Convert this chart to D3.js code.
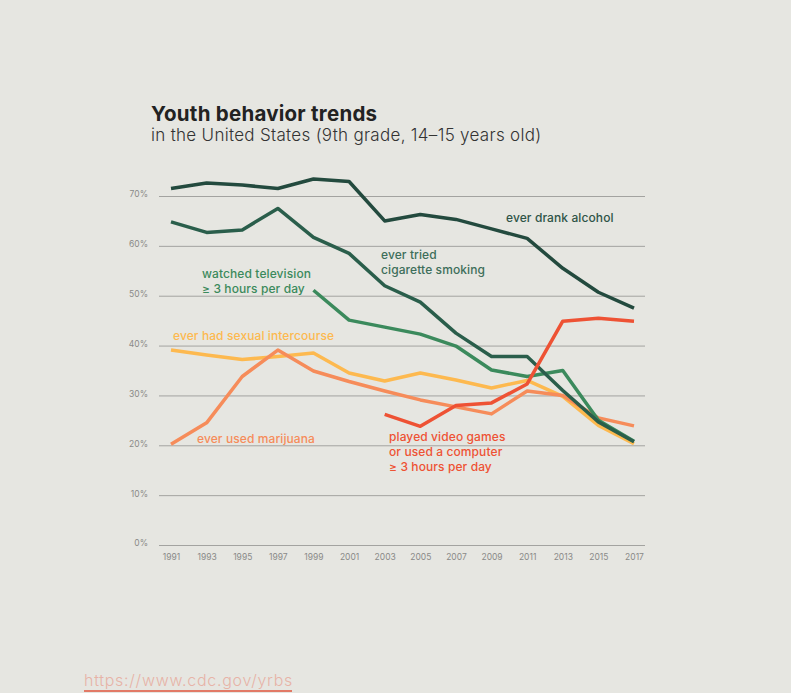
<!DOCTYPE html>
<html>
<head>
<meta charset="utf-8">
<script src="https://cdn.jsdelivr.net/npm/d3@7"></script>
<style>
  body { margin: 0; background: #e6e6e1; }
  svg { display: block; font-family: "Inter", "Lato", sans-serif; }
</style>
</head>
<body>
<svg width="791" height="693"></svg>
<script>
const years = [1991, 1993, 1995, 1997, 1999, 2001, 2003, 2005, 2007, 2009, 2011, 2013, 2015, 2017];
const yTicks = [0, 10, 20, 30, 40, 50, 60, 70];

const alcohol = [71.5, 72.6, 72.2, 71.5, 73.4, 72.9, 65.0, 66.3, 65.3, 63.4, 61.5, 55.5, 50.7, 47.5];
const cigarette = [64.8, 62.7, 63.2, 67.5, 61.7, 58.5, 52.0, 48.7, 42.5, 37.8, 37.8, 31.0, 24.7, 20.7];
const television = [null, null, null, null, 51.1, 45.1, 43.7, 42.3, 39.9, 35.1, 33.8, 35.0, 25.0, 20.8];
const sexual = [39.1, 38.1, 37.2, 37.8, 38.5, 34.5, 32.9, 34.5, 33.1, 31.5, 33.0, 29.8, 24.0, 20.3];
const marijuana = [20.2, 24.5, 33.8, 39.1, 34.9, 32.8, 30.9, 29.1, 27.7, 26.3, 30.9, 30.0, 25.5, 23.9];
const videoGames = [null, null, null, null, null, null, 26.2, 23.8, 28.0, 28.5, 32.3, 44.9, 45.5, 44.9];

const series = [
  { values: sexual, color: '#fdb94f', label: ['ever had sexual intercourse'], lx: 173, ly: 340 },
  { values: marijuana, color: '#f68c5a', label: ['ever used marijuana'], lx: 197, ly: 443 },
  { values: television, color: '#3b8a5c', label: ['watched television', '\u2265 3 hours per day'], lx: 202, ly: 278 },
  { values: cigarette, color: '#2a5e4b', label: ['ever tried', 'cigarette smoking'], lx: 381, ly: 259, labelColor: '#3d6e5a' },
  { values: alcohol, color: '#234a3e', label: ['ever drank alcohol'], lx: 506, ly: 222, labelColor: '#2f5447' },
  { values: videoGames, color: '#ee5234', label: ['played video games', 'or used a computer', '\u2265 3 hours per day'], lx: 389, ly: 441 }
];

const svg = d3.select('svg');

const xScale = d3.scalePoint()
  .domain(years)
  .range([171, 634]);

const yScale = d3.scaleLinear()
  .domain([0, 70])
  .range([545, 196]);

// title
svg.append('text')
  .attr('x', 151)
  .attr('y', 121)
  .attr('font-size', '20.5px')
  .attr('font-weight', 700)
  .attr('letter-spacing', '0.25px')
  .attr('fill', '#222')
  .text('Youth behavior trends');
svg.append('text')
  .attr('x', 151)
  .attr('y', 141)
  .attr('font-size', '17px')
  .attr('font-weight', 300)
  .attr('letter-spacing', '0.3px')
  .attr('fill', '#333')
  .text('in the United States (9th grade, 14\u201315 years old)');

// y axis with grid lines
const yAxis = d3.axisLeft(yScale)
  .tickValues(yTicks)
  .tickSize(-(645 - 159))
  .tickPadding(11)
  .tickFormat(d => d + '%');

const yAxisG = svg.append('g')
  .attr('transform', 'translate(159,0)')
  .call(yAxis);
yAxisG.select('.domain').remove();
yAxisG.selectAll('line')
  .attr('stroke', '#a3a3a0')
  .attr('stroke-width', 1);
yAxisG.selectAll('text')
  .attr('fill', '#8a8a88')
  .attr('font-size', '8.5px')
  .attr('font-family', '"Inter", sans-serif')
  .attr('dy', '0.1em');

// x axis
const xAxis = d3.axisBottom(xScale)
  .tickSize(0)
  .tickPadding(9);

const xAxisG = svg.append('g')
  .attr('transform', 'translate(0,545)')
  .call(xAxis);
xAxisG.select('.domain').remove();
xAxisG.selectAll('text')
  .attr('fill', '#8a8a88')
  .attr('font-size', '8.5px')
  .attr('font-family', '"Inter", sans-serif');

// lines
const line = d3.line()
  .defined(d => d[1] !== null)
  .x(d => xScale(d[0]))
  .y(d => yScale(d[1]));

series.forEach(s => {
  svg.append('path')
    .datum(years.map((y, i) => [y, s.values[i]]))
    .attr('d', line)
    .attr('fill', 'none')
    .attr('stroke', s.color)
    .attr('stroke-width', 3.5)
    .attr('stroke-linejoin', 'round');
});

// labels
series.forEach(s => {
  const t = svg.append('text')
    .attr('x', s.lx)
    .attr('y', s.ly)
    .attr('font-size', '12px')
    .attr('font-weight', 500)
    .attr('letter-spacing', '0.1px')
    .attr('fill', s.labelColor || s.color);
  s.label.forEach((l, i) => {
    t.append('tspan')
      .attr('x', s.lx)
      .attr('dy', i === 0 ? 0 : 15)
      .text(l);
  });
});

// source link
svg.append('text')
  .attr('x', 84)
  .attr('y', 686)
  .attr('font-size', '16px')
  .attr('font-weight', 300)
  .attr('letter-spacing', '0.72px')
  .attr('fill', '#e7b3a7')
  .text('https://www.cdc.gov/yrbs');
svg.append('line')
  .attr('x1', 84)
  .attr('x2', 292)
  .attr('y1', 691)
  .attr('y2', 691)
  .attr('stroke', '#e0563e')
  .attr('stroke-width', 1.5);
</script>
</body>
</html>
